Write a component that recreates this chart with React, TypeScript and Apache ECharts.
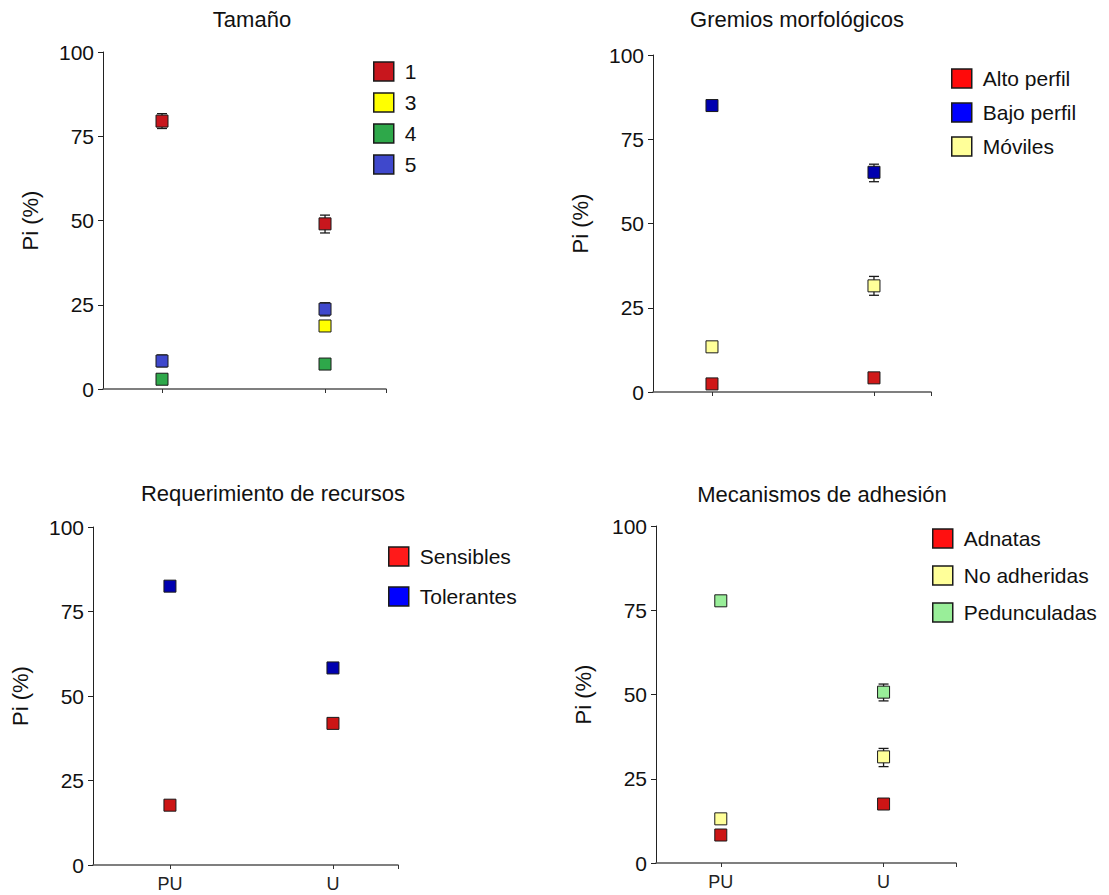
import React, { useEffect, useRef } from "react";
import * as echarts from "echarts";

// ---------- data ----------
const categories = ["PU", "U"];
const yTicks = [0, 25, 50, 75, 100];

// Panel 1: Tamaño
const tamanoNames = ["1", "3", "4", "5"];
const tamano1 = [79.5, 49.0];
const tamano3 = [null, 18.7];
const tamano4 = [2.9, 7.4];
const tamano5 = [8.3, 23.7];
const tamano1Err = [[77.3, 81.7], [46.3, 51.6]];
const tamano5Err = [[6.6, 10.1], [21.7, 25.6]];

// Panel 2: Gremios morfológicos
const gremiosNames = ["Alto perfil", "Bajo perfil", "Móviles"];
const altoPerfil = [2.4, 4.2];
const bajoPerfil = [85.0, 65.2];
const moviles = [13.4, 31.5];
const bajoPerfilErr = [null, [62.4, 67.6]];
const movilesErr = [null, [28.7, 34.3]];

// Panel 3: Requerimiento de recursos
const recursosNames = ["Sensibles", "Tolerantes"];
const sensibles = [17.7, 41.9];
const tolerantes = [82.5, 58.3];

// Panel 4: Mecanismos de adhesión
const adhesionNames = ["Adnatas", "No adheridas", "Pedunculadas"];
const adnatas = [8.3, 17.5];
const noAdheridas = [13.1, 31.5];
const pedunculadas = [77.8, 50.7];
const noAdheridasErr = [null, [28.6, 34.0]];
const pedunculadasErr = [[76.9, 78.6], [48.1, 53.1]];

const titles = ["Tamaño", "Gremios morfológicos", "Requerimiento de recursos", "Mecanismos de adhesión"];

// ---------- layout ----------
const FONT = "'Liberation Sans', Arial, sans-serif";
const grids = [
  { left: 103, top: 52, width: 283, height: 337, min: 0.638, max: 2.374 },
  { left: 653, top: 55, width: 278, height: 337, min: 0.636, max: 2.352 },
  { left: 93, top: 527, width: 305, height: 338, min: 0.528, max: 2.399 },
  { left: 656, top: 526, width: 300, height: 337, min: 0.602, max: 2.445 },
];
const titlePos = [
  { x: 247, y: 3 },
  { x: 792, y: 3 },
  { x: 268, y: 477 },
  { x: 817, y: 478 },
];

const pts = (vals: (number | null)[]) =>
  vals.map((v, i) => (v == null ? [i + 1, null] : [i + 1, v]));

function errData(vals: (number[] | null)[]) {
  const out: number[][] = [];
  vals.forEach((v, i) => {
    if (v) out.push([i + 1, v[0], v[1]]);
  });
  return out;
}

function scatter(name: string, vals: (number | null)[], idx: number, color: string) {
  return {
    type: "scatter",
    name,
    xAxisIndex: idx,
    yAxisIndex: idx,
    symbol: "rect",
    symbolSize: 12,
    data: pts(vals),
    itemStyle: { color, borderColor: "#1a1a1a", borderWidth: 1, opacity: 1 },
    z: 3,
  };
}

function errorBars(vals: (number[] | null)[], idx: number) {
  return {
    type: "custom",
    xAxisIndex: idx,
    yAxisIndex: idx,
    data: errData(vals),
    z: 2,
    silent: true,
    renderItem: (params: any, api: any) => {
      const x = api.value(0);
      const lo = api.coord([x, api.value(1)]);
      const hi = api.coord([x, api.value(2)]);
      const w = 5;
      const st = { stroke: "#1a1a1a", lineWidth: 1.3 };
      return {
        type: "group",
        children: [
          { type: "line", shape: { x1: hi[0], y1: hi[1], x2: lo[0], y2: lo[1] }, style: st },
          { type: "line", shape: { x1: hi[0] - w, y1: hi[1], x2: hi[0] + w, y2: hi[1] }, style: st },
          { type: "line", shape: { x1: lo[0] - w, y1: lo[1], x2: lo[0] + w, y2: lo[1] }, style: st },
        ],
      };
    },
  };
}

function legend(
  names: string[],
  colors: string[],
  left: number,
  top: number,
  gap: number
) {
  return {
    orient: "vertical",
    left,
    top,
    padding: 0,
    itemWidth: 20,
    itemHeight: 19,
    itemGap: gap,
    selectedMode: false,
    icon: "rect",
    data: names.map((n, i) => ({
      name: n,
      itemStyle: { color: colors[i], borderColor: "#1a1a1a", borderWidth: 1.5 },
    })),
    textStyle: { fontFamily: FONT, fontSize: 21, color: "#111", padding: [0, 0, 0, 6], lineHeight: 20 },
  };
}

export default function App() {
  const ref = useRef<HTMLDivElement>(null);
  useEffect(() => {
    if (!ref.current) return;
    const chart = echarts.init(ref.current, null, { renderer: "svg" });

    const xAxes = grids.map((g, i) => ({
      type: "value",
      gridIndex: i,
      min: g.min,
      max: g.max,
      splitLine: { show: false },
      axisLine: { show: true, lineStyle: { color: "#555", width: 1.5 } },
      axisTick: { show: true, length: 4, lineStyle: { color: "#333" }, customValues: [1, 2, g.max] },
      axisLabel: {
        show: i >= 2,
        customValues: [1, 2],
        margin: 10,
        fontFamily: FONT,
        fontSize: 18,
        color: "#222",
        formatter: (v: number) => categories[Math.round(v) - 1] ?? "",
      },
    }));
    const yAxes = grids.map((g, i) => ({
      type: "value",
      gridIndex: i,
      min: 0,
      max: 100,
      interval: 25,
      name: "Pi (%)",
      nameLocation: "middle",
      nameGap: 62,
      nameTextStyle: { fontFamily: FONT, fontSize: 22, color: "#111" },
      splitLine: { show: false },
      axisLine: { show: true, lineStyle: { color: "#222", width: 1 } },
      axisTick: { show: true, length: 5, lineStyle: { color: "#222" } },
      axisLabel: {
        margin: 9,
        fontFamily: FONT,
        fontSize: 21,
        color: "#111",
        formatter: (v: number) => (yTicks.includes(v) ? String(v) : ""),
      },
    }));

    const option = {
      animation: false,
      backgroundColor: "#fff",
      title: titles.map((t, i) => ({
        text: t,
        left: titlePos[i].x,
        top: titlePos[i].y,
        textAlign: "center",
        textStyle: { fontFamily: FONT, fontSize: 22, fontWeight: "normal", color: "#111" },
      })),
      grid: grids.map((g) => ({ left: g.left, top: g.top, width: g.width, height: g.height })),
      xAxis: xAxes,
      yAxis: yAxes,
      legend: [
        legend(tamanoNames, ["#c8161d", "#ffff00", "#2ea84a", "#3f48cc"], 373, 61, 10),
        legend(gremiosNames, ["#ff0a0a", "#0000ff", "#ffff99"], 951, 68, 13),
        legend(recursosNames, ["#ff1a1a", "#0000ff"], 388, 546, 19),
        legend(adhesionNames, ["#ff1010", "#ffff99", "#99ee99"], 932, 528, 16),
      ],
      series: [
        scatter("1", tamano1, 0, "#c8161d"),
        scatter("3", tamano3, 0, "#ffff00"),
        scatter("4", tamano4, 0, "#2ea84a"),
        scatter("5", tamano5, 0, "#3f48cc"),
        errorBars(tamano1Err, 0),
        errorBars(tamano5Err, 0),

        scatter("Alto perfil", altoPerfil, 1, "#d01818"),
        scatter("Bajo perfil", bajoPerfil, 1, "#0000b0"),
        scatter("Móviles", moviles, 1, "#ffff99"),
        errorBars(bajoPerfilErr, 1),
        errorBars(movilesErr, 1),

        scatter("Sensibles", sensibles, 2, "#cc1515"),
        scatter("Tolerantes", tolerantes, 2, "#0000b0"),

        scatter("Adnatas", adnatas, 3, "#cc1515"),
        scatter("No adheridas", noAdheridas, 3, "#ffff99"),
        scatter("Pedunculadas", pedunculadas, 3, "#99ee99"),
        errorBars(noAdheridasErr, 3),
        errorBars(pedunculadasErr, 3),
      ],
    };
    chart.setOption(option as any);
    return () => chart.dispose();
  }, []);
  return (
    <div
      ref={ref}
      style={{ position: "fixed", left: 0, top: 0, width: 1109, height: 895, background: "#fff" }}
    />
  );
}
